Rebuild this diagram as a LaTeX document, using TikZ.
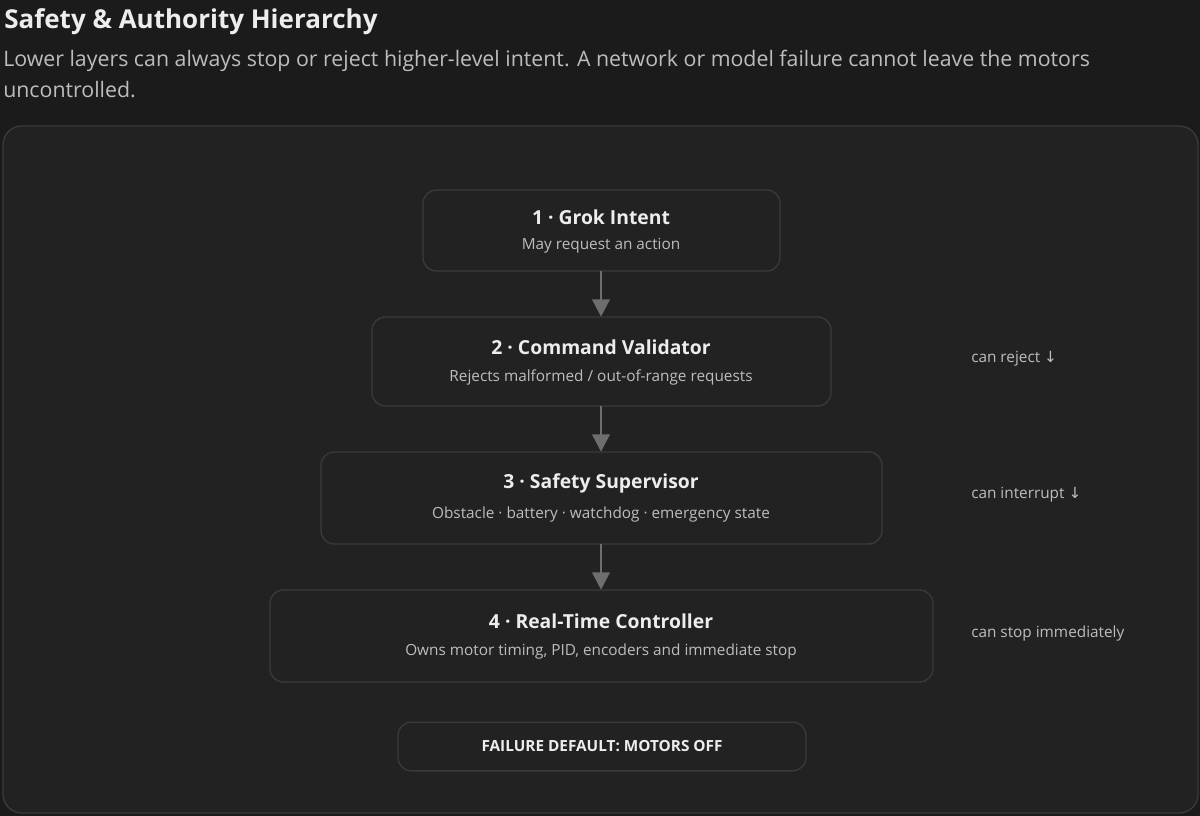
\documentclass[tikz,border=0pt]{standalone}
\usepackage{fontspec}
\setmainfont{Open Sans}
\newfontfamily\dejavu{DejaVu Sans}
\usetikzlibrary{arrows.meta}
\definecolor{bgc}{HTML}{1B1B1B}
\definecolor{panel}{HTML}{222222}
\definecolor{edge}{HTML}{3A3A3A}
\definecolor{txt}{HTML}{EDEDED}
\definecolor{sub}{HTML}{BDBDBD}
\definecolor{arr}{HTML}{6E6E6E}
\begin{document}
\begin{tikzpicture}[x=0.75pt,y=-0.75pt,
  box/.style={draw=edge,line width=1pt,rounded corners=10pt,fill=panel},
  ttl/.style={text=txt,font=\fontsize{14.5}{16}\selectfont\bfseries},
  sb/.style={text=sub,font=\fontsize{11.5}{13}\selectfont},
  side/.style={text=sub,font=\fontsize{11.5}{13}\selectfont,anchor=west,inner sep=0pt},
  ar/.style={draw=arr,line width=2pt,-{Triangle[length=13pt,width=13pt]}}]
\useasboundingbox[fill=bgc] (0,0) rectangle (1200,816);
\node[anchor=west,inner sep=0pt,text=txt,font=\fontsize{19.5}{22}\selectfont\bfseries] (title) at (4,22) {Safety \& Authority Hierarchy};
\node[anchor=north west,text=sub,align=left,font=\fontsize{16}{23.5}\selectfont,inner sep=0pt] (subt) at (3,50) {Lower layers can always stop or reject higher-level intent. A network or model failure cannot leave the motors\\uncontrolled.};
\draw[draw=edge,fill=panel,rounded corners=14pt,line width=1pt] (3,126) rectangle (1198,813);
\draw[box] (423,190) rectangle (780,271);
\node[minimum width=267.75pt,minimum height=60.75pt,inner sep=0pt] (b1) at (601,230.5) {};
\node[ttl] (b1t) at (601,217) {1 · Grok Intent};
\node[sb] (b1s) at (601,246) {May request an action};
\draw[box] (372,317) rectangle (831,406);
\node[minimum width=344pt,minimum height=66.75pt,inner sep=0pt] (b2) at (601,361.5) {};
\node[ttl] (b2t) at (601,347) {2 · Command Validator};
\node[sb] (b2s) at (601,377) {Rejects malformed / out-of-range requests};
\draw[box] (321,452) rectangle (882,544);
\node[minimum width=420pt,minimum height=69pt,inner sep=0pt] (b3) at (601,498) {};
\node[ttl] (b3t) at (601,483) {3 · Safety Supervisor};
\node[sb] (b3s) at (601,515) {Obstacle · battery · watchdog · emergency state};
\draw[box] (270,590) rectangle (933,682);
\node[minimum width=497pt,minimum height=69pt,inner sep=0pt] (b4) at (601,636) {};
\node[ttl] (b4t) at (601,621) {4 · Real-Time Controller};
\node[sb] (b4s) at (601,652) {Owns motor timing, PID, encoders and immediate stop};
\node[box,minimum width=306pt,minimum height=36.5pt,inner sep=0pt,text=txt,font=\fontsize{11.5}{13}\selectfont\bfseries] (fd) at (602,746.5) {FAILURE DEFAULT: MOTORS OFF};
\node[side] (s1) at (971,359) {can reject {\dejavu ↓}};
\node[side] (s2) at (971,495) {can interrupt {\dejavu ↓}};
\node[side] (s3) at (971,634) {can stop immediately};
\draw[ar] (b1.south) -- (b2.north);
\draw[ar] (b2.south) -- (b3.north);
\draw[ar] (b3.south) -- (b4.north);
\end{tikzpicture}
\end{document}
